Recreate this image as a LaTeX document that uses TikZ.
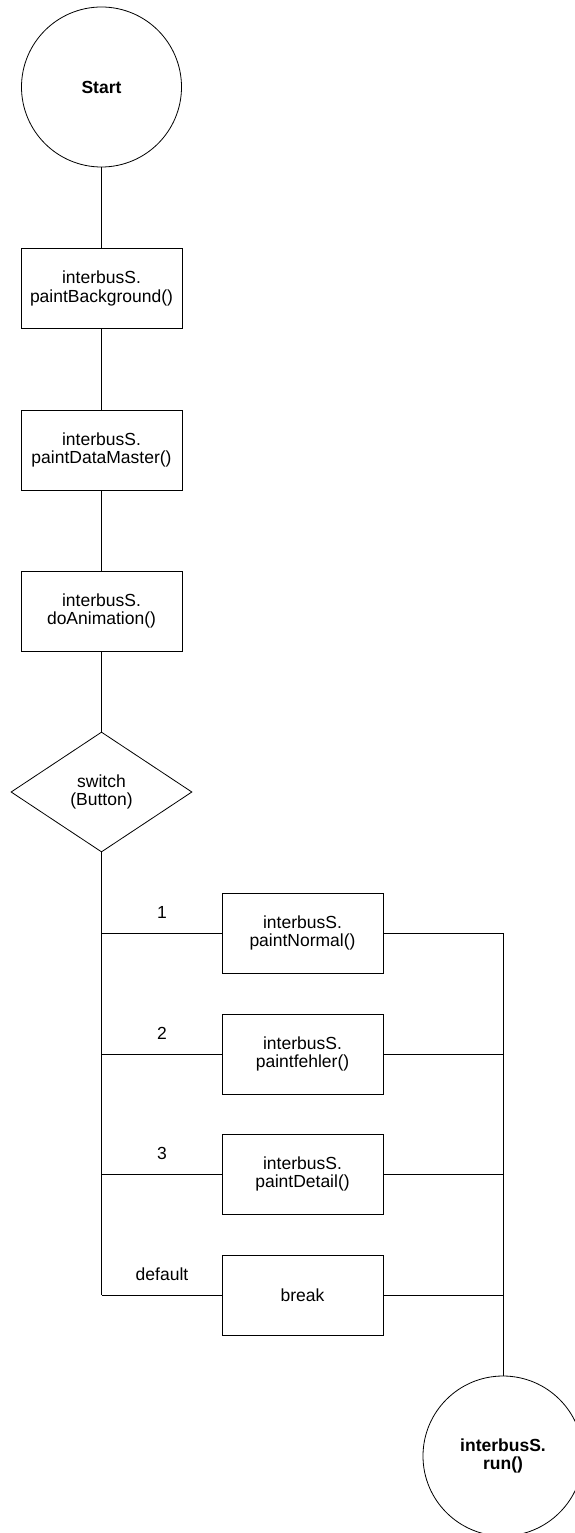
\documentclass[tikz,border=0pt]{standalone}
\usepackage{fontspec}
\setmainfont{Liberation Sans}
\usetikzlibrary{shapes.geometric}
\begin{document}
\begin{tikzpicture}[x=1pt,y=1pt,
  line width=0.8pt,
  every node/.style={font=\fontsize{17.5}{18.5}\selectfont, align=center},
  term/.style={draw, circle, minimum size=160pt, inner sep=0pt, font=\fontsize{17.5}{18.5}\selectfont\bfseries},
  proc/.style={draw, rectangle, minimum width=161pt, minimum height=80pt, inner sep=0pt},
  choice/.style={draw, diamond, minimum width=181pt, minimum height=120pt, inner sep=0pt},
  caselabel/.style={inner sep=0pt}]
\useasboundingbox (0,0) rectangle (574,-1533);

% main sequence
\node[term]   (start) at (101.5,-87)  {Start};
\node[proc]   (bg)    at (101.5,-288.5) {interbusS.\\paintBackground()};
\node[proc]   (dm)    at (101.5,-450) {interbusS.\\paintDataMaster()};
\node[proc]   (anim)  at (101.5,-611) {interbusS.\\doAnimation()};
\node[choice] (sw)    at (101.5,-792) {switch\\(Button)};

% case branches
\node[proc] (pn) at (302.5,-933)  {interbusS.\\paintNormal()};
\node[proc] (pf) at (302.5,-1054) {interbusS.\\paintfehler()};
\node[proc] (pd) at (302.5,-1174) {interbusS.\\paintDetail()};
\node[proc] (br) at (302.5,-1295) {break};

\node[caselabel] (l1) at (162,-912)  {1};
\node[caselabel] (l2) at (162,-1033) {2};
\node[caselabel] (l3) at (162,-1153) {3};
\node[caselabel] (l4) at (162,-1274) {default};

% end
\node[term] (run) at (503,-1456) {interbusS.\\run()};

% junction points
\coordinate (j1) at (101.5,-933);
\coordinate (j2) at (101.5,-1054);
\coordinate (j3) at (101.5,-1174);
\coordinate (j4) at (101.5,-1295);
\coordinate (r1) at (503,-933);
\coordinate (r2) at (503,-1054);
\coordinate (r3) at (503,-1174);
\coordinate (r4) at (503,-1295);

% connectors
\draw (start) -- (bg);
\draw (bg) -- (dm);
\draw (dm) -- (anim);
\draw (anim) -- (sw);
\draw (sw.south) -- (j4);
\draw (j1) -- (pn);
\draw (j2) -- (pf);
\draw (j3) -- (pd);
\draw (j4) -- (br);
\draw (pn) -- (r1);
\draw (pf) -- (r2);
\draw (pd) -- (r3);
\draw (br) -- (r4);
\draw (r1) -- (run);
\end{tikzpicture}
\end{document}
